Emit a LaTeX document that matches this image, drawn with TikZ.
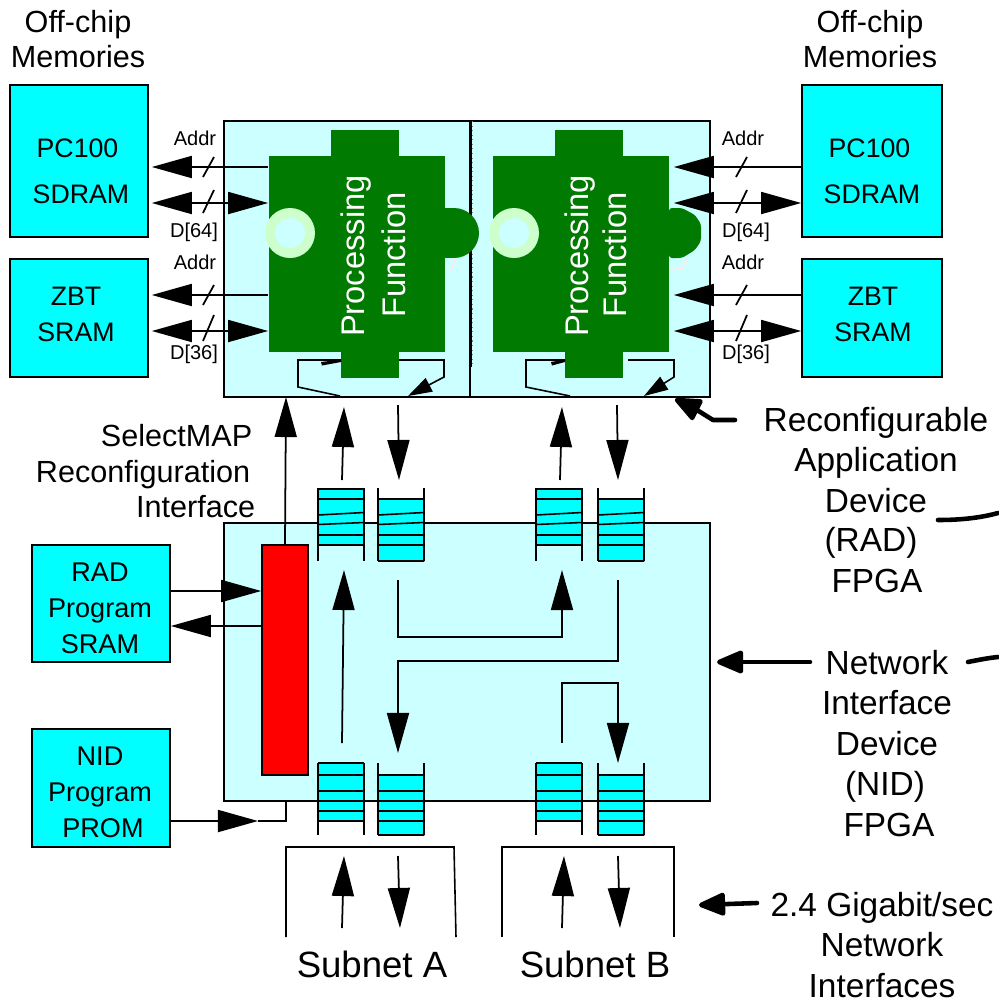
\documentclass[tikz,border=0pt]{standalone}
\usepackage{fontspec}
\setmainfont{Liberation Sans}
\usepackage{xcolor}
\usetikzlibrary{arrows.meta,positioning,calc}
\definecolor{memcyan}{RGB}{0,255,255}
\definecolor{devcyan}{RGB}{204,255,255}
\definecolor{pfgreen}{RGB}{0,122,0}
\definecolor{pfring}{RGB}{204,255,204}
\definecolor{pfstray}{RGB}{255,232,232}

\begin{document}
\begin{tikzpicture}[
  x=0.01cm, y=-0.01cm,
  line width=0.45pt,
  membox/.style={draw, fill=memcyan, inner sep=0pt},
  devbox/.style={draw, fill=devcyan, inner sep=0pt},
  qfill/.style={fill=memcyan, inner sep=0pt, minimum width=0.46cm},
  pfblock/.style={fill=pfgreen, inner sep=0pt, minimum width=1.76cm, minimum height=1.96cm},
  lbl/.style={inner sep=0pt, align=center},
  big/.style={lbl, font=\fontsize{9.5}{11.45}\selectfont},
  mid/.style={lbl, font=\fontsize{8.7}{10.2}\selectfont},
  cfgline/.style={mid, anchor=east, text height=6.3pt, text depth=1.8pt},
  small/.style={lbl, font=\fontsize{7.6}{10.2}\selectfont},
  prog/.style={lbl, font=\fontsize{7.7}{10.2}\selectfont},
  tiny/.style={lbl, font=\fontsize{5.7}{7}\selectfont},
  pflbl/.style={lbl, text=white, rotate=90, font=\fontsize{9.3}{11}\selectfont},
  arr/.style={-{Triangle[length=4mm,width=2.2mm]}, line width=0.5pt},
  biarr/.style={{Triangle[length=4mm,width=2.2mm]}-{Triangle[length=4mm,width=2.2mm]}, line width=0.5pt},
  loopline/.style={-{Triangle[length=2.4mm,width=1.5mm]}, line width=0.45pt},
  note/.style={-{Triangle[length=3mm,width=2.4mm,round]}, line width=1.3pt, line cap=round, line join=round},
  stub/.style={line width=1.3pt, line cap=round},
]
\useasboundingbox (0,0) rectangle (999,1002);

% levels of the memory buses
\coordinate (addrA) at (0,167);
\coordinate (dataA) at (0,203);
\coordinate (addrB) at (0,295);
\coordinate (dataB) at (0,331);

% memories
\node[membox, minimum width=1.38cm, minimum height=1.52cm] (pcl) at (79,161) {};
\node[membox, minimum width=1.38cm, minimum height=1.18cm] (zbtl) at (79,318) {};
\node[membox, minimum width=1.40cm, minimum height=1.52cm] (pcr) at (872,161) {};
\node[membox, minimum width=1.40cm, minimum height=1.18cm] (zbtr) at (872,318) {};
\node[small] (pcltext) at (77.5,148) {PC100};
\node[small] (sdltext) at (81,194) {SDRAM};
\node[small] (zbtltext) at (76,314) {ZBT\\SRAM};
\node[small] (pcrtext) at (869.5,148) {PC100};
\node[small] (sdrtext) at (872,194) {SDRAM};
\node[small] (zbtrtext) at (873,314) {ZBT\\SRAM};
\node[mid] (offl) at (78,39) {Off-chip\\Memories};
\node[mid] (offr) at (870,39) {Off-chip\\Memories};

% RAD device
\node[devbox, minimum width=4.86cm, minimum height=2.76cm] (rad) at (467,259) {};
\draw (470,121) -- (470,397);
\draw[line width=0.6pt] (470.5,121) -- (470.5,367);
\draw[gray, densely dotted, line width=0.3pt] (472.5,121) -- (472.5,367);

% processing blocks
\node[pfblock] (pfa) at (357,254) {};
\node[pfblock] (pfb) at (581,254) {};
\fill[pfgreen] (331,130) rectangle (399,156);
\fill[pfgreen] (341,352) rectangle (399,378);
\fill[pfgreen] (445,208) rectangle (454,258);
\fill[pfgreen] (454,233) circle [radius=25];
\fill[pfgreen] (555,130) rectangle (623,156);
\fill[pfgreen] (565,352) rectangle (623,378);
\fill[pfgreen, rounded corners=0.03cm] (669,208) -- (682,208) -- (695,215) -- (701,224)
  -- (701,241) -- (695,250) -- (682,258) -- (669,258) -- cycle;
\draw[pfstray] (451,271) -- (455,258);
\draw[pfstray] (670,270) -- (682,268) -- (688,258);
\fill[pfring] (290,233) circle [radius=25];
\fill[pfring] (514,233) circle [radius=25];
\fill[devcyan] (290,233) circle [radius=15];
\fill[devcyan] (514,233) circle [radius=15];
\node[pflbl] (pfa1) at (356,256) {Processing};
\node[pflbl] (pfa2) at (394,255) {Function};
\node[pflbl] (pfb1) at (580,256) {Processing};
\node[pflbl] (pfb2) at (615,255) {Function};

% loops under the blocks
\coordinate (la1) at (340,396);
\coordinate (la2) at (408,396);
\coordinate (lb1) at (570,396);
\coordinate (lb2) at (644,396);
\draw (341,360) -- (298,360) -- (298,387) -- (la1);
\draw[loopline] (399,360) -- (444,360) -- (444,377) -- (la2);
\draw (565,360) -- (526,360) -- (526,387) -- (lb1);
\draw[loopline] (628,360) -- (674,360) -- (674,377) -- (lb2);
\fill (321,362) -- (341,359.5) -- (341,362) -- (322,365.5) -- cycle;
\fill (551,362) -- (565,359.5) -- (565,362) -- (552,365.5) -- cycle;

% memory buses
\draw[arr, shorten >=0.3mm] (pfa.west |- addrA) -- (pcl.east |- addrA);
\draw[biarr, shorten <=0.3mm] (pcl.east |- dataA) -- (pfa.west |- dataA);
\draw[arr, shorten >=0.3mm] (pfa.west |- addrB) -- (zbtl.east |- addrB);
\draw[biarr, shorten <=0.3mm] (zbtl.east |- dataB) -- (pfa.west |- dataB);
\draw[arr, shorten >=0.4mm] (pcr.west |- addrA) -- (pfb.east |- addrA);
\draw[biarr, shorten <=0.4mm] (pfb.east |- dataA) -- (pcr.west |- dataA);
\draw[arr, shorten >=0.4mm] (zbtr.west |- addrB) -- (pfb.east |- addrB);
\draw[biarr, shorten <=0.4mm] (pfb.east |- dataB) -- (zbtr.west |- dataB);
\foreach \xa/\xb in {203/214,736/747} {
  \draw[line width=0.5pt] (\xa,177) -- (\xb,157);
  \draw[line width=0.5pt] (\xa,213) -- (\xb,190);
  \draw[line width=0.5pt] (\xa,305) -- (\xb,285);
  \draw[line width=0.5pt] (\xa,341) -- (\xb,315);
}
\node[tiny] (addrl1) at (195,138) {Addr};
\node[tiny] (datal1) at (194,232) {D[64]};
\node[tiny] (addrl2) at (195,262) {Addr};
\node[tiny] (datal2) at (194,354) {D[36]};
\node[tiny] (addrr1) at (743,138) {Addr};
\node[tiny] (datar1) at (746,232) {D[64]};
\node[tiny] (addrr2) at (743,262) {Addr};
\node[tiny] (datar2) at (746,354) {D[36]};

% NID device
\node[devbox, minimum width=4.86cm, minimum height=2.78cm] (nid) at (467,662) {};
\node[draw, fill=red, inner sep=0pt, minimum width=0.46cm, minimum height=2.30cm] (cfg) at (285,660) {};

% queues
\node[qfill, minimum height=0.56cm, anchor=north west] (q1) at (318,489) {};
\node[qfill, minimum height=0.62cm, anchor=north west] (q2) at (378,499) {};
\node[qfill, minimum height=0.56cm, anchor=north west] (q3) at (536,489) {};
\node[qfill, minimum height=0.62cm, anchor=north west] (q4) at (598,499) {};
\node[qfill, minimum height=0.58cm, anchor=north west] (q5) at (318,763) {};
\node[qfill, minimum height=0.60cm, anchor=north west] (q6) at (378,775) {};
\node[qfill, minimum height=0.58cm, anchor=north west] (q7) at (536,763) {};
\node[qfill, minimum height=0.60cm, anchor=north west] (q8) at (598,775) {};
\foreach \xq in {318,378,536,598} {
  \draw (\xq,488) -- (\xq,561);
  \draw (\xq+46,488) -- (\xq+46,561);
  \draw (\xq,499) -- (\xq+46,499);
  \draw (\xq,515) -- (\xq+46,512.5);
  \draw (\xq,524.5) -- (\xq+46,522.5);
  \draw (\xq,535) -- (\xq+46,535);
  \draw (\xq,545) -- (\xq+46,545);
  \draw (\xq,763) -- (\xq,835);
  \draw (\xq+46,763) -- (\xq+46,835);
  \foreach \yq in {775,791,801,811,821}
    \draw (\xq,\yq) -- (\xq+46,\yq);
}
\foreach \xq in {318,536} {
  \draw (\xq,489) -- (\xq+46,489);
  \draw (\xq,763) -- (\xq+46,763);
}
\foreach \xq in {378,598} {
  \draw (\xq,561) -- (\xq+46,561);
  \draw (\xq,835) -- (\xq+46,835);
}

% arrows between RAD and queues
\coordinate (u1) at (342,480);
\coordinate (u2) at (560,480);
\coordinate (d1) at (398,405);
\coordinate (d2) at (617,405);
\draw[arr] (u1) -- (344,407);
\draw[arr] (u2) -- (562,407);
\draw[arr] (d1) -- (399,480);
\draw[arr] (d2) -- (618,480);

% arrows inside NID
\draw[arr] (342,743) -- (344,570);
\draw[arr] (398,580) -- (398,637) -- (562,637) -- (562,570);
\draw[arr] (618,580) -- (618,661) -- (398,661) -- (398,753);
\draw[arr] (562,743) -- (562,683) -- (618,683) -- (618,763);

% program memories
\node[membox, minimum width=1.38cm, minimum height=1.17cm] (radsram) at (101,603.5) {};
\node[membox, minimum width=1.38cm, minimum height=1.18cm] (nidprom) at (101,788) {};
\node[prog] (radtext) at (100,608) {RAD\\Program\\SRAM};
\node[prog] (nidtext) at (100,792) {NID\\Program\\\hspace*{0.06cm}PROM};
\draw[arr] (radsram.east |- 0,591) -- (cfg.west |- 0,591);
\draw[arr] (cfg.west |- 0,626) -- (radsram.east |- 0,626);
\draw[arr] (cfg.north) -- (286,397);
\coordinate (promturn) at (286,821);
\coordinate (promtip) at (258,821);
\draw[arr] (nidprom.east |- promturn) -- (promtip);
\draw (promtip) -- (promturn) -- (promturn |- nid.south);
\node[cfgline] (selmap1) at (253,439) {SelectMAP};
\node[cfgline] (selmap2) at (251,475) {Reconfiguration};
\node[cfgline] (selmap3) at (256,510) {Interface};

% subnets
\coordinate (sa1) at (286,937);
\coordinate (sa2) at (286,847);
\coordinate (sa3) at (454,847);
\coordinate (sa4) at (456,937);
\coordinate (sb1) at (502,937);
\coordinate (sb2) at (502,847);
\coordinate (sb3) at (674,847);
\coordinate (sb4) at (674,937);
\draw (sa1) -- (sa2) -- (sa3) -- (sa4);
\draw (sb1) -- (sb2) -- (sb3) -- (sb4);
\draw[arr] (342,928) -- (344,856);
\draw[arr] (398,856) -- (400,928);
\draw[arr] (562,928) -- (564,856);
\draw[arr] (618,856) -- (620,928);
\node[lbl, font=\fontsize{10.4}{12}\selectfont] (suba) at (372,964) {Subnet A};
\node[lbl, font=\fontsize{10.4}{12}\selectfont] (subb) at (595,964) {Subnet B};

% right hand labels
\node[big] (radlabel) at (876,460) {Reconfigurable\\Application\\Device};
\node[big] (radlabel2) at (871,543) {(RAD)};
\node[big] (radlabel3) at (877,581) {FPGA};
\node[big] (nidlabel) at (887,703) {Network\\Interface\\Device};
\node[big] (nidlabel2) at (885,787) {(NID)};
\node[big] (nidlabel3) at (889,825) {FPGA};
\node[big] (netlabel) at (882,945) {2.4 Gigabit/sec\\Network\\Interfaces};
\coordinate (radtail) at (735,420);
\coordinate (nidtail) at (810,662);
\coordinate (nettail) at (757,903);
\draw[note] (radtail) -- (713,420) -- (697,410) -- (675,399);
\draw[note] (nidtail) -- (717,662);
\draw[note] (nettail) -- (699,905);
\coordinate (stub1a) at (938,520);
\coordinate (stub1b) at (998,513);
\coordinate (stub2a) at (968,662);
\coordinate (stub2b) at (998,657);
\draw[stub] (stub1a) .. controls (960,520) and (980,518) .. (stub1b);
\draw[stub] (stub2a) .. controls (978,660) and (988,658) .. (stub2b);
\end{tikzpicture}
\end{document}
